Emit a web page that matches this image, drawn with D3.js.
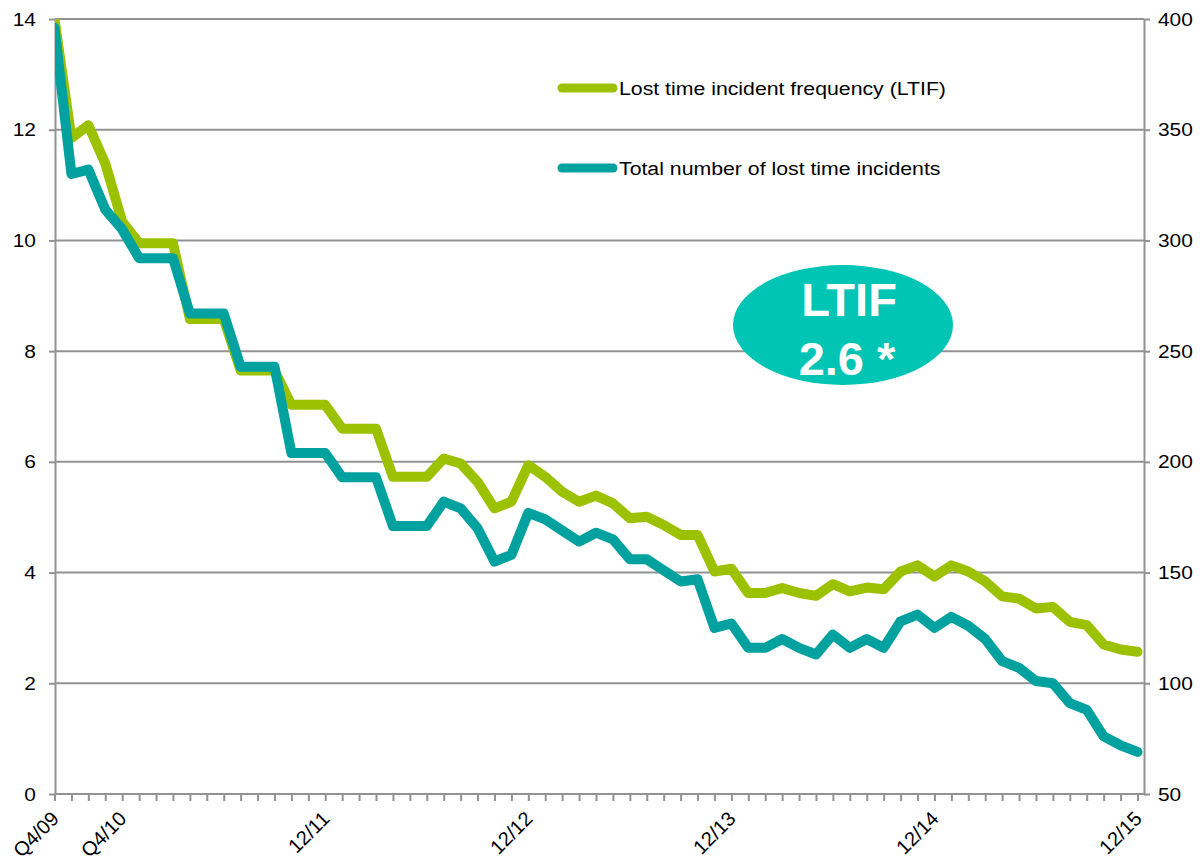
<!DOCTYPE html>
<html>
<head>
<meta charset="utf-8">
<script src="https://cdn.jsdelivr.net/npm/d3@7/dist/d3.min.js"></script>
<style>
body { margin: 0; background: #fff; }
text { font-family: Arial, "Liberation Sans", sans-serif; }
</style>
</head>
<body>
<div id="graph"></div>
<script>
// quarters first, then monthly from 1/11 to 12/15
var quarters = ["Q4/09", "Q1/10", "Q2/10", "Q3/10", "Q4/10"];
var years = ["11", "12", "13", "14", "15"];
var shownLabels = ["Q4/09", "Q4/10", "12/11", "12/12", "12/13", "12/14", "12/15"];

var categories = quarters.slice();
years.forEach(function(y) {
  for (var m = 1; m <= 12; m++) categories.push(m + "/" + y);
});

// lost time incident frequency (left axis)
var ltif = [14.0, 11.85, 12.08, 11.39, 10.34, 9.95, 9.95, 9.95, 8.58, 8.58,
  8.58, 7.65, 7.65, 7.65, 7.03, 7.03, 7.03, 6.6, 6.6, 6.6,
  5.73, 5.73, 5.73, 6.06, 5.97, 5.64, 5.16, 5.28, 5.94, 5.73,
  5.46, 5.28, 5.39, 5.25, 4.98, 5.01, 4.86, 4.68, 4.68, 4.02,
  4.07, 3.63, 3.63, 3.72, 3.63, 3.58, 3.79, 3.66, 3.73, 3.70,
  4.02, 4.13, 3.93, 4.13, 4.02, 3.84, 3.57, 3.53, 3.35, 3.38,
  3.11, 3.05, 2.70, 2.61, 2.57];

// total number of lost time incidents (right axis)
var incidents = [396, 330, 332, 314, 305, 292, 292, 292, 267, 267,
  267, 243, 243, 243, 204, 204, 204, 193, 193, 193,
  171, 171, 171, 182, 179, 170, 155, 158, 177, 174,
  169, 164, 168, 165, 156, 156, 151, 146, 147, 125,
  127, 116, 116, 120, 116, 113, 122, 116, 120, 116,
  128, 131, 125, 130, 126, 120, 110, 107, 101, 100,
  91, 88, 76, 72, 69];

var leftTicks = [0, 2, 4, 6, 8, 10, 12, 14];
var rightTicks = [50, 100, 150, 200, 250, 300, 350, 400];

var w = 1200, h = 862;
var pLeft = 55, pRight = 1144, pTop = 19, pBottom = 794;
var green = "#9bc100", teal = "#00a19f", grid = "#929292";
// the source text is a little wider than it is tall
var stretch = 1.1;

var vis = d3.select("#graph").append("svg").attr("width", w).attr("height", h);

var x = d3.scalePoint().domain(categories).range([54.5, 1137.5]);
var yL = d3.scaleLinear().domain([0, 14]).range([pBottom, pTop]);
var yR = d3.scaleLinear().domain([50, 400]).range([pBottom, pTop]);

function addBase(vis, target, object, tag) {
  return vis.selectAll(target).data(object).enter().append(tag);
}

// gridlines
addBase(vis, "line.grid", leftTicks.slice(1), "line")
  .attr("class", "grid")
  .attr("x1", pLeft).attr("x2", pRight)
  .attr("y1", function(d) { return yL(d); })
  .attr("y2", function(d) { return yL(d); })
  .style("stroke", grid).style("stroke-width", 2);

function styleAxis(g) {
  g.select(".domain").style("stroke", grid).style("stroke-width", 2);
  g.selectAll(".tick line").style("stroke", grid).style("stroke-width", 2);
  g.selectAll("text").style("font-size", "19px").style("fill", "#000")
    .style("font-family", "Arial, 'Liberation Sans', sans-serif");
}

vis.append("g").attr("transform", "translate(" + pLeft + ",0)")
  .call(d3.axisLeft(yL).tickValues(leftTicks).tickSize(6).tickSizeOuter(0))
  .call(styleAxis)
  .selectAll(".tick text").attr("x", 0)
  .attr("transform", "translate(-19,0) scale(" + stretch + ",1)");

vis.append("g").attr("transform", "translate(" + pRight + ",0)")
  .call(d3.axisRight(yR).tickValues(rightTicks).tickSize(6).tickSizeOuter(0))
  .call(styleAxis)
  .selectAll(".tick text").attr("x", 0)
  .attr("transform", "translate(14,0) scale(" + stretch + ",1)");

var xAxis = vis.append("g").attr("transform", "translate(0," + pBottom + ")")
  .call(d3.axisBottom(x).tickSize(7).tickSizeOuter(0)
    .tickFormat(function(d) { return shownLabels.indexOf(d) >= 0 ? d : ""; }))
  .call(styleAxis);
xAxis.select(".domain").attr("d", "M" + pLeft + ",0H" + pRight);
xAxis.selectAll(".tick text")
  .attr("x", 0).attr("y", 0).attr("dy", 0)
  .attr("transform", "translate(5,26) rotate(-45)")
  .style("text-anchor", "end").style("font-size", "20px");

// series lines, clipped to the plot area
vis.append("clipPath").attr("id", "plot")
  .append("rect").attr("x", pLeft).attr("y", pTop)
  .attr("width", pRight - pLeft + 10).attr("height", pBottom - pTop);

var lineL = d3.line()
  .x(function(d, i) { return x(categories[i]); })
  .y(function(d) { return yL(d); });
var lineR = d3.line()
  .x(function(d, i) { return x(categories[i]); })
  .y(function(d) { return yR(d); });

var series = vis.append("g").attr("clip-path", "url(#plot)");
series.append("path").datum(ltif).attr("d", lineL)
  .style("fill", "none").style("stroke", green).style("stroke-width", 10)
  .style("stroke-linejoin", "round").style("stroke-linecap", "round");
series.append("path").datum(incidents).attr("d", lineR)
  .style("fill", "none").style("stroke", teal).style("stroke-width", 10)
  .style("stroke-linejoin", "round").style("stroke-linecap", "round");

// legend
var legend = [
  {name: "Lost time incident frequency (LTIF)", color: green, y: 88},
  {name: "Total number of lost time incidents", color: teal, y: 168}
];
var lg = addBase(vis, "g.legend", legend, "g").attr("class", "legend");
lg.append("line")
  .attr("x1", 562).attr("x2", 613)
  .attr("y1", function(d) { return d.y; }).attr("y2", function(d) { return d.y; })
  .style("stroke", function(d) { return d.color; })
  .style("stroke-width", 9).style("stroke-linecap", "round");
lg.append("text")
  .attr("transform", function(d) { return "translate(619," + (d.y + 7) + ") scale(" + (stretch + 0.02) + ",1)"; })
  .style("font-size", "19px").style("fill", "#000")
  .text(function(d) { return d.name; });

// callout bubble
vis.append("ellipse").attr("cx", 843).attr("cy", 325).attr("rx", 110).attr("ry", 60)
  .style("fill", "#00c4b4");
vis.append("text").attr("x", 849).attr("y", 316).attr("text-anchor", "middle")
  .style("font-size", "47px").style("font-weight", "bold").style("fill", "#fff")
  .text("LTIF");
vis.append("text").attr("x", 847).attr("y", 375).attr("text-anchor", "middle")
  .style("font-size", "47px").style("font-weight", "bold").style("fill", "#fff")
  .text("2.6 *");
</script>
</body>
</html>
